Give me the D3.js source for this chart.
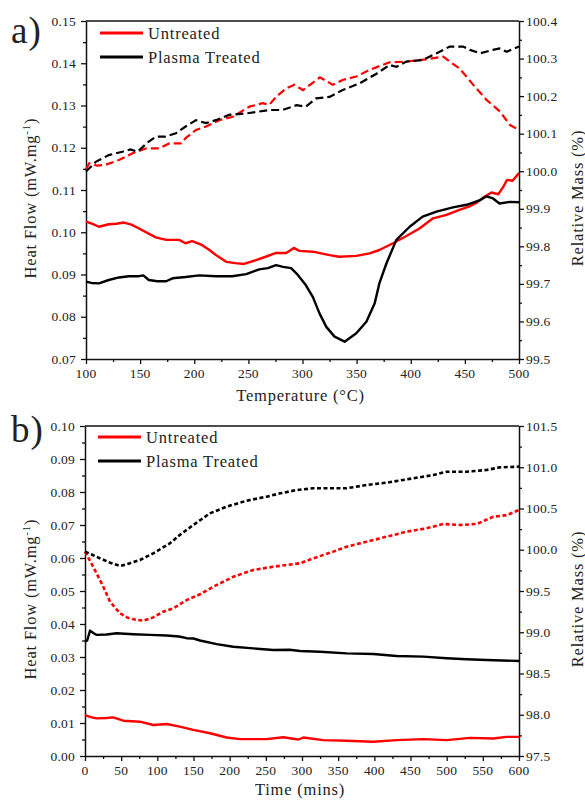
<!DOCTYPE html>
<html>
<head>
<meta charset="utf-8">
<script src="https://cdn.jsdelivr.net/npm/d3@7"></script>
<style>
  html, body { margin: 0; padding: 0; background: #fff; }
  svg { display: block; }
</style>
</head>
<body>
<svg id="chart" width="585" height="801"></svg>
<script>
// ---------- Panel a: heating ramp (temperature, °C) ----------
const tempTicks = [100, 150, 200, 250, 300, 350, 400, 450, 500];
const heatTicksA = [0.07, 0.08, 0.09, 0.10, 0.11, 0.12, 0.13, 0.14, 0.15];
const massTicksA = [99.5, 99.6, 99.7, 99.8, 99.9, 100.0, 100.1, 100.2, 100.3, 100.4];

// heat flow (mW/mg) vs temperature
const heatUntreatedA = [[100,0.1025],[106,0.1020],[112,0.1013],[121,0.1019],[128,0.1020],[135,0.1023],[142,0.1018],[149,0.1009],[157,0.0998],[164.5,0.0988],[174,0.0982],[186,0.0982],[192,0.0974],[198,0.0979],[207,0.0970],[214,0.0958],[220,0.0946],[229.5,0.0930],[238,0.0927],[246,0.0925],[257,0.0934],[266,0.0942],[275.6,0.0951],[285,0.0951],[292,0.0963],[297,0.0956],[309.5,0.0954],[325,0.0946],[334,0.0942],[349.7,0.0944],[362,0.0950],[371,0.0958],[383.6,0.0974],[396,0.0991],[408,0.1009],[420.6,0.1033],[433,0.1041],[445,0.1053],[455,0.1062],[461,0.1070],[467,0.1082],[474.5,0.1094],[481,0.1090],[486,0.1110],[489,0.1124],[494,0.1122],[500,0.1140]];
const heatPlasmaA = [[100,0.0883],[105,0.0880],[112,0.0879],[121,0.0887],[130.5,0.0893],[139.8,0.0896],[149,0.0896],[153,0.0898],[158,0.0887],[166,0.0884],[174,0.0884],[180,0.0891],[192,0.0894],[204.6,0.0898],[220,0.0896],[235,0.0896],[248,0.0901],[260,0.0912],[268,0.0915],[275.6,0.0922],[282,0.0918],[289.5,0.0915],[295.7,0.0899],[303,0.0875],[309.5,0.0847],[315.7,0.0808],[322,0.0776],[329.6,0.0753],[338.9,0.0741],[349.7,0.0761],[359,0.0788],[366.7,0.0832],[371,0.0879],[377.5,0.0926],[386.7,0.0982],[399,0.1013],[411,0.1037],[423.8,0.1049],[439,0.1059],[451.6,0.1065],[464,0.1076],[470,0.1085],[476,0.1080],[482,0.1068],[491.7,0.1072],[500,0.1071]];
// relative mass (%) vs temperature
const massUntreatedA = [[100,100.005],[103,100.021],[110,100.015],[118,100.017],[130.5,100.030],[143,100.048],[155.8,100.061],[167.6,100.061],[176.9,100.074],[187.7,100.074],[192,100.088],[201.6,100.110],[210.8,100.119],[223,100.136],[235.5,100.145],[251,100.172],[263,100.181],[269.4,100.177],[275.6,100.198],[285,100.221],[292.6,100.230],[300.4,100.216],[316,100.250],[328,100.230],[337,100.243],[349.7,100.252],[362,100.270],[380.5,100.290],[396,100.292],[414.5,100.298],[430,100.305],[436,100.292],[445,100.274],[457.7,100.230],[470,100.190],[482.4,100.159],[491.7,100.123],[500,100.110]];
const massPlasmaA = [[100,99.999],[109,100.025],[121,100.043],[133.6,100.052],[141,100.058],[147.5,100.052],[158,100.079],[164.5,100.092],[173,100.092],[183,100.101],[192,100.119],[201.6,100.136],[210.8,100.128],[220,100.136],[232,100.150],[248,100.154],[260,100.159],[269.4,100.163],[281.6,100.163],[294.6,100.176],[303,100.172],[312.7,100.194],[325,100.198],[337,100.216],[352.8,100.234],[368,100.259],[380.5,100.283],[386.7,100.278],[396,100.292],[411,100.296],[424,100.314],[436,100.332],[448.4,100.332],[454.6,100.323],[464,100.314],[476,100.323],[482,100.327],[488.6,100.318],[500,100.332]];

// ---------- Panel b: isothermal hold (time, mins) ----------
const timeTicks = [0, 50, 100, 150, 200, 250, 300, 350, 400, 450, 500, 550, 600];
const heatTicksB = [0.00, 0.01, 0.02, 0.03, 0.04, 0.05, 0.06, 0.07, 0.08, 0.09, 0.10];
const massTicksB = [97.5, 98.0, 98.5, 99.0, 99.5, 100.0, 100.5, 101.0, 101.5];

const heatUntreatedB = [[0,0.0124],[8,0.0118],[16,0.0114],[30,0.0115],[39,0.0117],[53,0.0107],[76,0.0104],[94.4,0.0094],[112.9,0.0097],[131,0.0089],[149.7,0.0079],[172.8,0.0069],[195.8,0.0056],[214.3,0.0051],[251,0.0051],[274,0.0057],[294.9,0.0050],[301.8,0.0056],[329.4,0.0048],[361.7,0.0046],[398.6,0.0043],[430.9,0.0048],[467.8,0.0051],[500,0.0048],[532.2,0.0055],[564.4,0.0053],[582.8,0.0058],[600,0.0058]];
const heatPlasmaB = [[0,0.0346],[3,0.0350],[7,0.0380],[12,0.0372],[16,0.0367],[30,0.0368],[43.7,0.0372],[66.8,0.0369],[89.8,0.0367],[112.9,0.0365],[130,0.0362],[140.5,0.0357],[150,0.0356],[159,0.0350],[182,0.0339],[205,0.0331],[232.7,0.0326],[260.3,0.0321],[283,0.0322],[297.3,0.0318],[325,0.0316],[361.7,0.0311],[398.6,0.0309],[430.9,0.0303],[467.8,0.0301],[500,0.0296],[527.6,0.0293],[555.3,0.0291],[600,0.0288]];
const massUntreatedB = [[0,99.977],[8,99.85],[16,99.714],[25.3,99.552],[34.6,99.37],[48.4,99.23],[58,99.18],[66.8,99.157],[80.6,99.14],[94.4,99.18],[108.2,99.249],[122,99.29],[140.5,99.39],[158.9,99.46],[177.4,99.552],[205,99.673],[232.7,99.755],[260.3,99.794],[297.3,99.836],[315.6,99.896],[343.3,99.977],[361.7,100.037],[389.4,100.098],[417,100.158],[444.7,100.219],[472.3,100.26],[495.3,100.312],[518.3,100.3],[541.4,100.312],[564.4,100.4],[582.8,100.42],[600,100.482]];
const massPlasmaB = [[0,99.977],[10,99.94],[20.7,99.896],[34.6,99.843],[48.4,99.803],[62,99.836],[76,99.876],[94.4,99.957],[117.5,100.078],[131,100.179],[149.7,100.3],[172.8,100.442],[195.8,100.522],[223.5,100.595],[251,100.643],[270,100.684],[292.6,100.724],[315.6,100.745],[343.3,100.745],[361.7,100.745],[389.4,100.785],[417,100.813],[453.9,100.866],[481.6,100.906],[500,100.946],[527.6,100.946],[555.3,100.967],[573.7,100.999],[600,101.007]];

const seriesNames = ["Untreated", "Plasma Treated"];
const seriesColors = ["#ff0000", "#000000"];
const FONT = '"Liberation Serif"';
const INK = "#222";

const svg = d3.select("#chart");

// Serif text placed with a start anchor; horizontal alignment is done by
// measuring the rendered width. anchor: "start" | "middle" | "end".
function placeText(parent, x, y, str, size, spacing, anchor, transform) {
  const t = parent.append("text")
    .style("font-family", FONT).style("font-size", size + "px").style("fill", INK)
    .attr("y", y).text(str);
  if (spacing) t.style("letter-spacing", spacing + "px");
  if (transform) t.attr("transform", transform);
  const w = t.node().getComputedTextLength();
  const shift = anchor === "middle" ? w / 2 : anchor === "end" ? w : 0;
  t.attr("x", x - shift);
  return t;
}

function drawPanel(p) {
  const g = svg.append("g");
  const x = d3.scaleLinear().domain(p.xDomain).range([p.left, p.right]);
  const yL = d3.scaleLinear().domain(p.yLDomain).range([p.bottom, p.top]);
  const yR = d3.scaleLinear().domain(p.yRDomain).range([p.bottom, p.top]);

  // minor tick positions (one minor between majors)
  const halfSteps = (ticks) => {
    const out = [];
    for (let i = 0; i < ticks.length - 1; i++) out.push((ticks[i] + ticks[i + 1]) / 2);
    return out;
  };

  const styleAxis = (s, keepDomain) => {
    s.attr("font-family", null).attr("text-anchor", null).attr("font-size", null);
    if (keepDomain) s.select(".domain").attr("stroke", "#111").attr("stroke-width", 1.5);
    else s.select(".domain").remove();
    s.selectAll(".tick line").attr("stroke", "#111").attr("stroke-width", 1.3);
    s.selectAll(".tick text").remove();
  };

  // minor ticks
  g.append("g").attr("transform", `translate(0,${p.bottom})`)
    .call(d3.axisBottom(x).tickValues(halfSteps(p.xTicks)).tickSize(3).tickFormat(""))
    .call(styleAxis, false);
  g.append("g").attr("transform", `translate(${p.left},0)`)
    .call(d3.axisLeft(yL).tickValues(halfSteps(p.yLTicks)).tickSize(3).tickFormat(""))
    .call(styleAxis, false);
  g.append("g").attr("transform", `translate(${p.right},0)`)
    .call(d3.axisRight(yR).tickValues(halfSteps(p.yRTicks)).tickSize(3).tickFormat(""))
    .call(styleAxis, false);

  // major ticks and axis lines
  g.append("g").attr("transform", `translate(0,${p.bottom})`)
    .call(d3.axisBottom(x).tickValues(p.xTicks).tickSize(5).tickSizeOuter(0).tickFormat(""))
    .call(styleAxis, true);
  g.append("g").attr("transform", `translate(${p.left},0)`)
    .call(d3.axisLeft(yL).tickValues(p.yLTicks).tickSize(5).tickSizeOuter(0).tickFormat(""))
    .call(styleAxis, true);
  g.append("g").attr("transform", `translate(${p.right},0)`)
    .call(d3.axisRight(yR).tickValues(p.yRTicks).tickSize(5).tickSizeOuter(0).tickFormat(""))
    .call(styleAxis, true);

  // tick labels from the same scales
  const fx = d3.format("d"), fl = d3.format(".2f"), fr = d3.format(".1f");
  p.xTicks.forEach(v => placeText(g, x(v), p.bottom + 19, fx(v), 13.5, 0.2, "middle"));
  p.yLTicks.forEach(v => placeText(g, p.left - 10, yL(v) + 4.5, fl(v), 13.5, 0.2, "end"));
  p.yRTicks.forEach(v => placeText(g, p.right + 7, yR(v) + 4.5, fr(v), 13.5, 0.2, "start"));

  // top frame line
  g.append("line").attr("x1", p.left).attr("x2", p.right).attr("y1", p.top).attr("y2", p.top)
    .attr("stroke", "#111").attr("stroke-width", 1.5);

  const lineL = d3.line().x(d => x(d[0])).y(d => yL(d[1]));
  const lineR = d3.line().x(d => x(d[0])).y(d => yR(d[1]));

  // mass curves (dashed, right axis)
  p.mass.forEach((s, i) => {
    g.append("path").datum(s).attr("d", lineR).attr("fill", "none")
      .attr("stroke", seriesColors[i]).attr("stroke-width", p.dashWidth)
      .attr("stroke-dasharray", p.dash);
  });
  // heat-flow curves (solid, left axis)
  p.heat.forEach((s, i) => {
    g.append("path").datum(s).attr("d", lineL).attr("fill", "none")
      .attr("stroke", seriesColors[i]).attr("stroke-width", 2.4).attr("stroke-linejoin", "round");
  });

  // legend
  seriesNames.forEach((name, i) => {
    const ly = p.legendY + i * 24;
    g.append("line").attr("x1", p.legendX).attr("x2", p.legendX + 43).attr("y1", ly).attr("y2", ly)
      .attr("stroke", seriesColors[i]).attr("stroke-width", 3);
    placeText(g, p.legendX + 48, ly + 5.5, name, 16.5, 0.8, "start");
  });

  // panel letter
  placeText(g, 11, p.letterY, p.letter, 37, 1, "start");

  // axis titles
  placeText(g, (p.left + p.right) / 2 - 2, p.xTitleY, p.xTitle, 16.5, 0.8, "middle");

  const midY = (p.top + p.bottom) / 2 + 8;
  const hf = g.append("text").attr("transform", `translate(36,${midY}) rotate(-90)`)
    .style("font-family", FONT).style("font-size", "16.5px").style("letter-spacing", "0.8px").style("fill", INK);
  hf.append("tspan").text("Heat Flow (mW.mg");
  hf.append("tspan").attr("dy", -6).style("font-size", "11px").text("-1");
  hf.append("tspan").attr("dy", 6).text(")");
  hf.attr("x", -hf.node().getComputedTextLength() / 2);

  placeText(g, 0, 0, "Relative Mass (%)", 16.5, 0.8, "middle", `translate(582.5,${midY}) rotate(-90)`);
}

drawPanel({
  left: 86, right: 519, top: 21, bottom: 359,
  xDomain: [100, 500], yLDomain: [0.07, 0.15], yRDomain: [99.5, 100.4],
  xTicks: tempTicks, yLTicks: heatTicksA, yRTicks: massTicksA,
  heat: [heatUntreatedA, heatPlasmaA], mass: [massUntreatedA, massPlasmaA],
  dash: "8,4", dashWidth: 2.2,
  legendX: 100, legendY: 33, letter: "a)", letterY: 43,
  xTitle: "Temperature (°C)", xTitleY: 401
});

drawPanel({
  left: 85, right: 519, top: 426, bottom: 756,
  xDomain: [0, 600], yLDomain: [0.00, 0.10], yRDomain: [97.5, 101.5],
  xTicks: timeTicks, yLTicks: heatTicksB, yRTicks: massTicksB,
  heat: [heatUntreatedB, heatPlasmaB], mass: [massUntreatedB, massPlasmaB],
  dash: "4,2.5", dashWidth: 2.6,
  legendX: 98, legendY: 437, letter: "b)", letterY: 442,
  xTitle: "Time (mins)", xTitleY: 795
});
</script>
</body>
</html>
